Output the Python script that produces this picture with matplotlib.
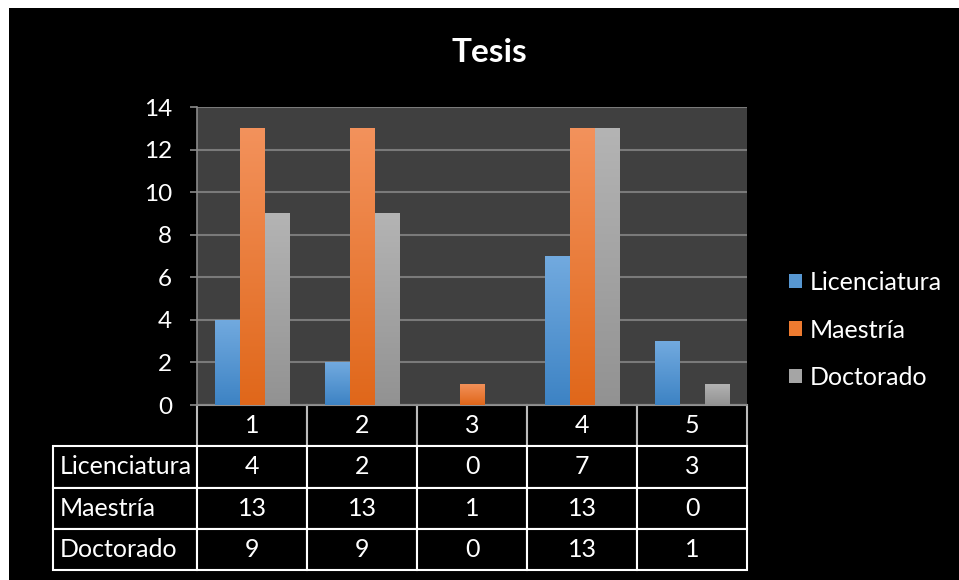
import numpy as np
import matplotlib
matplotlib.use("Agg")
import matplotlib.pyplot as plt
from matplotlib.patches import Rectangle
from matplotlib.colors import LinearSegmentedColormap

plt.rcParams['font.family'] = ['Lato', 'DejaVu Sans']

categories = ["1", "2", "3", "4", "5"]
series_names = ["Licenciatura", "Maestría", "Doctorado"]
licenciatura = [4, 2, 0, 7, 3]
maestria = [13, 13, 1, 13, 0]
doctorado = [9, 9, 0, 13, 1]
series_values = [licenciatura, maestria, doctorado]
y_ticks = [0, 2, 4, 6, 8, 10, 12, 14]
title = "Tesis"

top_colors = ["#72aadf", "#f3925c", "#b4b4b4"]
bot_colors = ["#3d83c4", "#e0671a", "#929292"]
mid_colors = ["#5797d2", "#ee7b30", "#a5a5a5"]

W, H = 959, 580
fig = plt.figure(figsize=(W / 100, H / 100), dpi=100, facecolor="white")
fig.patches.append(Rectangle((9 / W, 0), 1 - 9 / W, 1 - 8 / H, transform=fig.transFigure,
                             facecolor="black", edgecolor="none", zorder=-10))

ax = fig.add_axes([197 / W, (H - 405) / H, 550 / W, 298 / H])
ax.set_facecolor("#404040")

x = np.arange(len(categories))
bw = 25 / 110
for i, (vals, name) in enumerate(zip(series_values, series_names)):
    offs = (i - 1) * bw
    bars = ax.bar(x + offs, vals, width=bw, color=mid_colors[i], label=name, zorder=3,
                  linewidth=0)
    cmap = LinearSegmentedColormap.from_list("g%d" % i, [bot_colors[i], top_colors[i]])
    grad = np.linspace(0, 1, 256).reshape(-1, 1)
    for b in bars:
        if b.get_height() <= 0:
            continue
        x0, y0 = b.get_x(), b.get_y()
        im = ax.imshow(grad, cmap=cmap, origin="lower", aspect="auto",
                       extent=(x0, x0 + b.get_width(), y0, y0 + b.get_height()),
                       zorder=4)
        im.set_clip_path(b)

ax.set_xlim(-0.5, len(categories) - 0.5)
ax.set_ylim(0, 14)
ax.set_yticks(y_ticks)
ax.yaxis.grid(True, color="#7a7a7a", linewidth=1.5, zorder=1)
ax.set_axisbelow(True)
ax.set_xticks([])
ax.tick_params(axis="y", colors="#8a8a8a", length=5, width=1.2, pad=13,
               labelcolor="white", labelsize=17.5)
for s in ["top", "right"]:
    ax.spines[s].set_visible(False)
ax.spines["left"].set_color("#8a8a8a")
ax.spines["left"].set_linewidth(1.2)
ax.spines["bottom"].set_color("#8a8a8a")
ax.spines["bottom"].set_linewidth(1.2)

# data table
cell_text = [[str(v) for v in vals] for vals in series_values]
tbl = ax.table(cellText=cell_text, rowLabels=series_names, colLabels=categories,
               cellLoc="center", rowLoc="left", loc="bottom",
               bbox=[0, -165 / 298, 1, 165 / 298])
tbl.auto_set_font_size(False)
tbl.set_fontsize(18)
for (r, c), cell in tbl.get_celld().items():
    cell.set_facecolor("black")
    cell.set_edgecolor("white" if r > 0 else "#bbbbbb")
    cell.set_linewidth(1.5)
    cell.get_text().set_color("white")
    if c == -1:
        cell.set_width(151 / 550)
        cell.PAD = 0.045

fig.text(489 / W, 1 - 52 / H, title, ha="center", va="center", fontsize=24,
         fontweight="bold", color="white")

leg = fig.legend(loc="center left", bbox_to_anchor=(789 / W, 1 - 330 / H),
                 frameon=False, fontsize=18, labelcolor="white",
                 handlelength=0.52, handleheight=0.52, handletextpad=0.3,
                 labelspacing=0.98, borderaxespad=0, borderpad=0)

fig.savefig("out.png", dpi=100, facecolor=fig.get_facecolor())
